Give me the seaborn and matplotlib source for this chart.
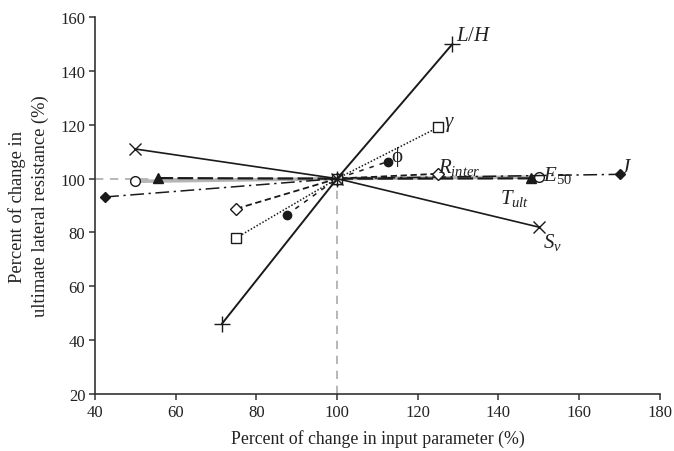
import matplotlib
matplotlib.use("Agg")
import matplotlib.pyplot as plt
import seaborn as sns
import pandas as pd

sns.set_theme(style="ticks")
plt.rcParams['font.family'] = ['Liberation Serif', 'DejaVu Serif']
plt.rcParams['mathtext.fontset'] = 'custom'
plt.rcParams['mathtext.rm'] = 'Liberation Serif'
plt.rcParams['mathtext.it'] = 'Liberation Serif:italic'

# Data: x = percent of change in input parameter, y = percent of change in resistance
lh_x = [71.4, 100, 128.6];  lh_y = [46, 100, 150]
sv_x = [50, 100, 150];      sv_y = [111, 100, 82]
gam_x = [75, 100, 125];     gam_y = [78, 100, 119]
phi_x = [87.5, 100, 112.5]; phi_y = [86.5, 100, 106.3]
rin_x = [75, 100, 125];     rin_y = [88.8, 100, 101.8]
e50_x = [50, 100, 150];     e50_y = [99, 100, 100.6]
tult_x = [55.5, 100, 148];  tult_y = [100.2, 100, 100.1]
j_x = [42.5, 100, 170];     j_y = [93.2, 100, 101.6]

fig = plt.figure(figsize=(6.74, 4.52), dpi=100)
ax = fig.add_axes([0.141, 0.126, 0.838, 0.834])

# reference lines
ax.plot([40, 100], [100, 100], color='#aaaaaa', lw=1.2, ls=(0, (5, 4)), zorder=1)
ax.plot([100, 100], [20, 100], color='#aaaaaa', lw=1.2, ls=(0, (5, 4)), zorder=1)

def draw(x, y, marker, ls, lw=1.2, color='#1a1a1a', mfc='#1a1a1a', ms=6, z=3, mew=1.0):
    df = pd.DataFrame({'x': x, 'y': y})
    sns.lineplot(data=df, x='x', y='y', ax=ax, color=color, lw=lw, linestyle=ls,
                 marker=marker, markersize=ms, markerfacecolor=mfc,
                 markeredgecolor='#1a1a1a', markeredgewidth=mew, zorder=z, sort=False)

draw(e50_x, e50_y, 'o', '-', lw=2.5, color='#b5b5b5', mfc='white', ms=7, z=2)
draw(tult_x, tult_y, '^', (0, (7, 2)), lw=1.6, ms=7, z=3)
draw(j_x, j_y, 'D', (0, (9, 3, 1.5, 3)), lw=1.1, ms=5.5)
draw(rin_x, rin_y, 'D', (0, (3.5, 2)), lw=1.3, mfc='white', ms=6.5)
draw(phi_x, phi_y, 'o', (0, (3, 4)), lw=1.1, ms=6)
draw(gam_x, gam_y, 's', (0, (1, 1.2)), lw=1.1, mfc='white', ms=7)
draw(sv_x, sv_y, 'x', '-', lw=1.2, ms=8)
draw(lh_x, lh_y, '+', '-', lw=1.4, ms=11)

ax.set_xlim(40, 180)
ax.set_ylim(20, 160)
ax.set_xticks(range(40, 181, 20))
ax.set_yticks(range(20, 161, 20))
sns.despine(ax=ax)
for s in ['left', 'bottom']:
    ax.spines[s].set_color('#333333')
    ax.spines[s].set_linewidth(1.2)
ax.tick_params(axis='both', labelsize=12, length=4, width=1.1, color='#333333',
               labelcolor='#222222', direction='out', pad=3)
ax.set_xlabel('Percent of change in input parameter (%)', fontsize=12.8, color='#222222', labelpad=7)
ax.set_ylabel('Percent of change in\nultimate lateral resistance (%)', fontsize=13.3,
              color='#222222', labelpad=8, linespacing=1.45)

tk = dict(fontsize=15, color='#222222')
ax.text(129.5, 151.5, r'$L/H$', **tk)
ax.text(126.5, 119.5, r'$\gamma$', **tk)
ax.text(113.5, 106.5, 'ϕ', **tk)
ax.text(125, 102.5, r'$R_{inter}$', **tk)
ax.text(151, 99.5, r'$E_{50}$', **tk)
ax.text(170, 102.5, r'$J$', **tk)
ax.text(140.5, 91, r'$T_{ult}$', **tk)
ax.text(151, 74.5, r'$S_v$', **tk)

fig.savefig('out.png', dpi=100)
